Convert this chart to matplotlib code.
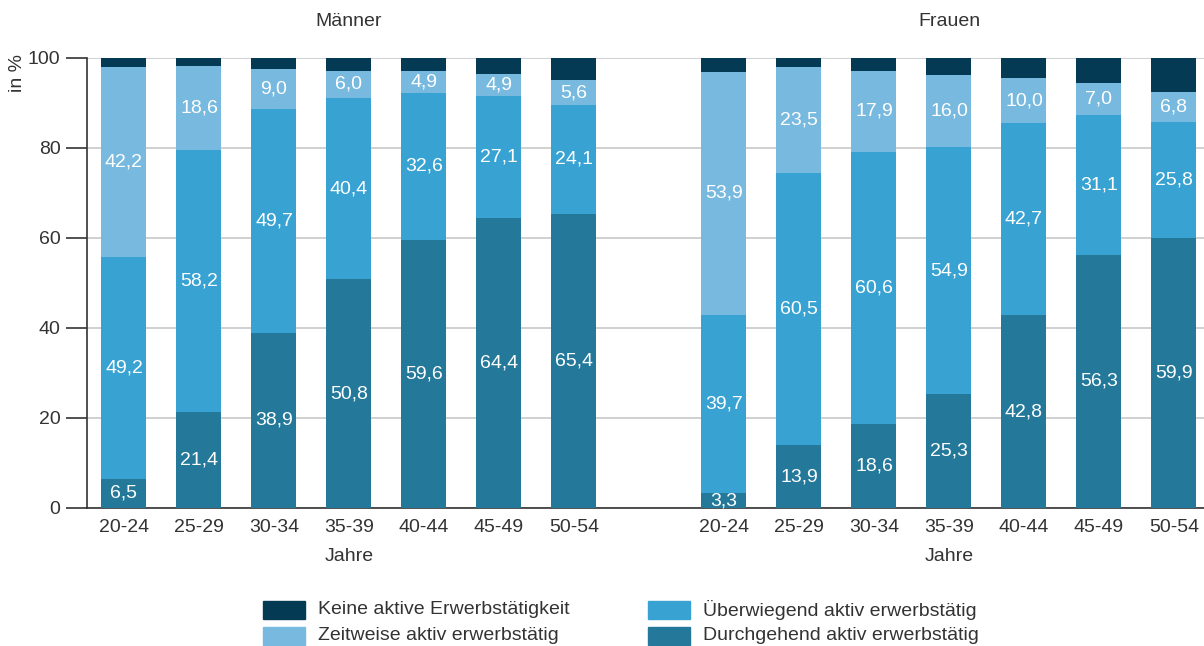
import matplotlib
matplotlib.use("Agg")
import matplotlib.pyplot as plt
from matplotlib.patches import Rectangle
import numpy as np

plt.rcParams['font.family'] = ['Liberation Sans', 'DejaVu Sans']

AGES = ["20-24", "25-29", "30-34", "35-39", "40-44", "45-49", "50-54"]
SERIES = ["Durchgehend aktiv erwerbstätig", "Überwiegend aktiv erwerbstätig",
          "Zeitweise aktiv erwerbstätig", "Keine aktive Erwerbstätigkeit"]
COLORS = ["#24799b", "#38a3d3", "#78b9df", "#053a55"]

# Männer
m_durch = [6.5, 21.4, 38.9, 50.8, 59.6, 64.4, 65.4]
m_ueber = [49.2, 58.2, 49.7, 40.4, 32.6, 27.1, 24.1]
m_zeit = [42.2, 18.6, 9.0, 6.0, 4.9, 4.9, 5.6]
m_keine = [2.1, 1.8, 2.4, 2.8, 2.9, 3.6, 4.9]
# Frauen
f_durch = [3.3, 13.9, 18.6, 25.3, 42.8, 56.3, 59.9]
f_ueber = [39.7, 60.5, 60.6, 54.9, 42.7, 31.1, 25.8]
f_zeit = [53.9, 23.5, 17.9, 16.0, 10.0, 7.0, 6.8]
f_keine = [3.1, 2.1, 2.9, 3.8, 4.5, 5.6, 7.5]

TXT = "#333333"
FS = 14

W, H = 1204, 646
fig = plt.figure(figsize=(W / 100, H / 100), dpi=100)
ax = fig.add_axes([87 / W, 1 - 508 / H, 1 - 87 / W, 450 / H])

x_m = np.arange(7)
x_f = np.arange(7) + 8
groups = [(x_m, [m_durch, m_ueber, m_zeit, m_keine]),
          (x_f, [f_durch, f_ueber, f_zeit, f_keine])]

for xs, data in groups:
    bottom = np.zeros(7)
    for i, vals in enumerate(data):
        vals = np.array(vals)
        ax.bar(xs, vals, bottom=bottom, width=0.6, color=COLORS[i], zorder=3)
        if i < 3:
            for x, b, v in zip(xs, bottom, vals):
                ax.text(x, b + v / 2, f"{v:.1f}".replace(".", ","), ha="center",
                        va="center", color="white", fontsize=FS, zorder=4)
        bottom += vals

ax.set_ylim(0, 100)
ax.set_xlim(-0.493, 14.4)
ax.set_yticks([0, 20, 40, 60, 80, 100])
ax.set_xticks(list(x_m) + list(x_f))
ax.set_xticklabels(AGES + AGES)
ax.tick_params(axis="y", length=15, width=1.2, color=TXT, labelsize=FS,
               labelcolor=TXT, pad=4)
ax.tick_params(axis="x", length=0, labelsize=FS, labelcolor=TXT, pad=8)
ax.grid(axis="y", color="#c8c8c8", linewidth=1.2, zorder=0)
for s in ["top", "right"]:
    ax.spines[s].set_visible(False)
for s in ["left", "bottom"]:
    ax.spines[s].set_color(TXT)
    ax.spines[s].set_linewidth(1.2)

xt = ax.get_xaxis_transform()
ax.text(3, 1.08, "Männer", transform=xt, ha="center", va="center",
        fontsize=FS, color=TXT)
ax.text(11, 1.08, "Frauen", transform=xt, ha="center", va="center",
        fontsize=FS, color=TXT)
ax.text(3, -0.107, "Jahre", transform=xt, ha="center", va="center",
        fontsize=FS, color=TXT)
ax.text(11, -0.107, "Jahre", transform=xt, ha="center", va="center",
        fontsize=FS, color=TXT)
fig.text(18 / W, 1 - 73 / H, "in %", rotation=90, ha="center", va="center",
         fontsize=FS, color=TXT)

# legend, drawn by hand to keep the reference spacing
legend_items = [(3, 263, 610), (2, 263, 636), (1, 648, 610), (0, 648, 636)]
for idx, px, py in legend_items:
    fig.patches.append(Rectangle((px / W, 1 - (py + 9) / H), 42 / W, 18 / H,
                                 transform=fig.transFigure,
                                 color=COLORS[idx]))
    fig.text((px + 55) / W, 1 - py / H, SERIES[idx], ha="left", va="center",
             fontsize=FS, color=TXT)

fig.savefig("out.png", dpi=100)
